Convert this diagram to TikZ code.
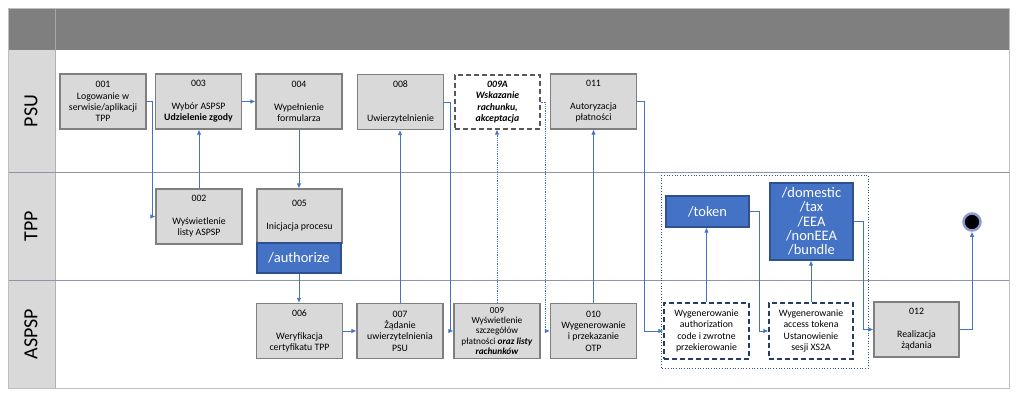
\documentclass[tikz,border=0pt]{standalone}
\usepackage{fontspec}
\setmainfont{Carlito}
\usetikzlibrary{arrows.meta}
\usetikzlibrary{calc}
\definecolor{flowblue}{HTML}{4472C4}
\definecolor{apiedge}{HTML}{2F528F}
\definecolor{boxgray}{HTML}{D9D9D9}
\definecolor{boxedge}{HTML}{7F7F7F}
\definecolor{headgray}{HTML}{7F7F7F}
\definecolor{laneline}{HTML}{8E96A6}
\definecolor{optedge}{HTML}{595959}
\definecolor{genedge}{HTML}{263D66}
\definecolor{endring}{HTML}{8C9BD2}
\tikzset{
    procbox/.style = {draw = boxedge, fill = boxgray, line width = 1.2pt, minimum width = 86pt, minimum height = 55pt, inner sep = 1pt, align = center, font = \fontsize{9.8}{11.3}\selectfont},
    optbox/.style = {procbox, draw = optedge, fill = white, dash pattern = on 5pt off 3pt, font = \fontsize{9.8}{11.3}\selectfont\bfseries\itshape},
    genbox/.style = {procbox, draw = genedge, fill = white, dash pattern = on 5pt off 3pt},
    apibox/.style = {draw = apiedge, fill = flowblue, line width = 1.2pt, text = white, align = center, inner sep = 1pt, font = \fontsize{14.5}{14.3}\selectfont},
    flow/.style = {flowblue, line width = 0.8pt, -{Latex[length = 5pt, width = 4.5pt]}},
    flowopt/.style = {flow, densely dotted},
    lanelabel/.style = {rotate = 90, font = \fontsize{20}{20}\selectfont}
}
\begin{document}
\begin{tikzpicture}[x = 1pt, y = -1pt]
    \useasboundingbox (0, 0) rectangle (1024, 403);
    \fill[boxgray] (8, 50) rectangle (55, 388);
    \fill[headgray] (8, 8) rectangle (1009, 50);
    \draw[gray!70] (55, 8) -- (55, 50);
    \draw[gray!60] (55, 50) -- (55, 388);
    \foreach \y in {172, 280} {
        \draw[laneline, line width = 0.7pt] (8, \y) -- (1009, \y);
    }
    \draw[gray!50, line width = 0.8pt] (8, 8) rectangle (1009, 388);
    \foreach \name/\y in {PSU/111, TPP/226, ASPSP/334} {
        \node[lanelabel] (lane\name) at (31, \y) {\name};
    }

    \node[procbox] (n001) at (103, 101.5) {001\\Logowanie w\\serwisie/aplikacji\\TPP};
    \node[procbox] (n003) at (198.5, 101.5) {003\\[11.3pt]Wybór ASPSP\\\textbf{Udzielenie zgody}};
    \node[procbox] (n004) at (299, 101.5) {004\\[11.3pt]Wypełnienie\\formularza};
    \node[procbox] (n008) at (400.5, 102) {008\\[22.6pt]Uwierzytelnienie};
    \node[optbox, minimum width = 85pt, minimum height = 54pt] (n009A) at (497.5, 102) {009A\\Wskazanie\\rachunku,\\akceptacja};
    \node[procbox] (n011) at (593.5, 101.5) {011\\[11.3pt]Autoryzacja\\płatności};

    \node[procbox] (n002) at (199, 216.5) {002\\[11.3pt]Wyświetlenie\\listy ASPSP};
    \node[procbox, minimum width = 85pt, minimum height = 54pt] (n005) at (299.5, 216) {005\\[12pt]Inicjacja procesu};
    \node[apibox, minimum width = 84pt, minimum height = 30pt] (nAuthorize) at (299, 258) {/authorize};

    \node[procbox] (n006) at (299.5, 331) {006\\[11.3pt]Weryfikacja\\certyfikatu TPP};
    \node[procbox] (n007) at (400, 331) {007\\Żądanie\\uwierzytelnienia\\PSU};
    \node[procbox, font = \fontsize{9.3}{10.3}\selectfont] (n009) at (497, 331) {009\\Wyświetlenie\\szczegółów\\płatności \textbf{\textit{oraz listy}}\\\textbf{\textit{rachunków}}};
    \node[procbox] (n010) at (593.5, 331) {010\\Wygenerowanie\\i przekazanie\\OTP};

    \draw[apiedge, line width = 0.7pt, dotted] (661, 175) rectangle (868, 368);
    \node[apibox, minimum width = 83pt, minimum height = 31pt] (nToken) at (707.5, 211.5) {/token};
    \node[apibox, minimum width = 83pt, minimum height = 77pt] (nDomestic) at (811.5, 221.5) {/domestic\\/tax\\/EEA\\/nonEEA\\/bundle};
    \node[genbox, minimum width = 85pt, minimum height = 56pt] (nAuthCode) at (706.5, 331) {Wygenerowanie\\authorization\\code i zwrotne\\przekierowanie};
    \node[genbox, minimum width = 84pt, minimum height = 56pt] (nAccess) at (811, 331) {Wygenerowanie\\access tokena\\Ustanowienie\\sesji XS2A};
    \node[procbox, minimum width = 85pt] (n012) at (916.5, 329.5) {012\\[11.3pt]Realizacja\\żądania};
    \node[circle, fill = black, draw = endring, line width = 2.5pt, minimum size = 17pt, inner sep = 0pt] (nEnd) at (972, 222) {};

    \draw[flow] (n001.east) -- ++(6, 0) |- (n002.west);
    \draw[flow] (n002.north) -- (n002.north |- n003.south);
    \draw[flow] (n003.east) -- (n004.west);
    \draw[flow] (n004.south) -- (n004.south |- n005.north);
    \draw[flow] (nAuthorize.south) -- (nAuthorize.south |- n006.north);
    \draw[flow] (n006.east) -- (n007.west);
    \draw[flow] (n007.north) -- (n007.north |- n008.south);
    \draw[flow] (n008.east) -- ++(6, 0) |- (n009.west);
    \draw[flowopt] (n009.north) -- (n009.north |- n009A.south);
    \draw[flowopt] (n009A.east) -- ++(5, 0) |- (n010.west);
    \draw[flow] (n010.north) -- (n010.north |- n011.south);
    \draw[flow] (n011.east) -- ++(7, 0) |- (nAuthCode.west);
    \draw[flow] (nAuthCode.north) -- (nAuthCode.north |- nToken.south);
    \draw[flow] (nToken.east) -- ++(10, 0) |- (nAccess.west);
    \draw[flow] (nAccess.north) -- (nAccess.north |- nDomestic.south);
    \draw[flow] (nDomestic.east) -- ++(10, 0) |- (n012.west);
    \draw[flow] (n012.east) -| (nEnd.south);
\end{tikzpicture}
\end{document}
